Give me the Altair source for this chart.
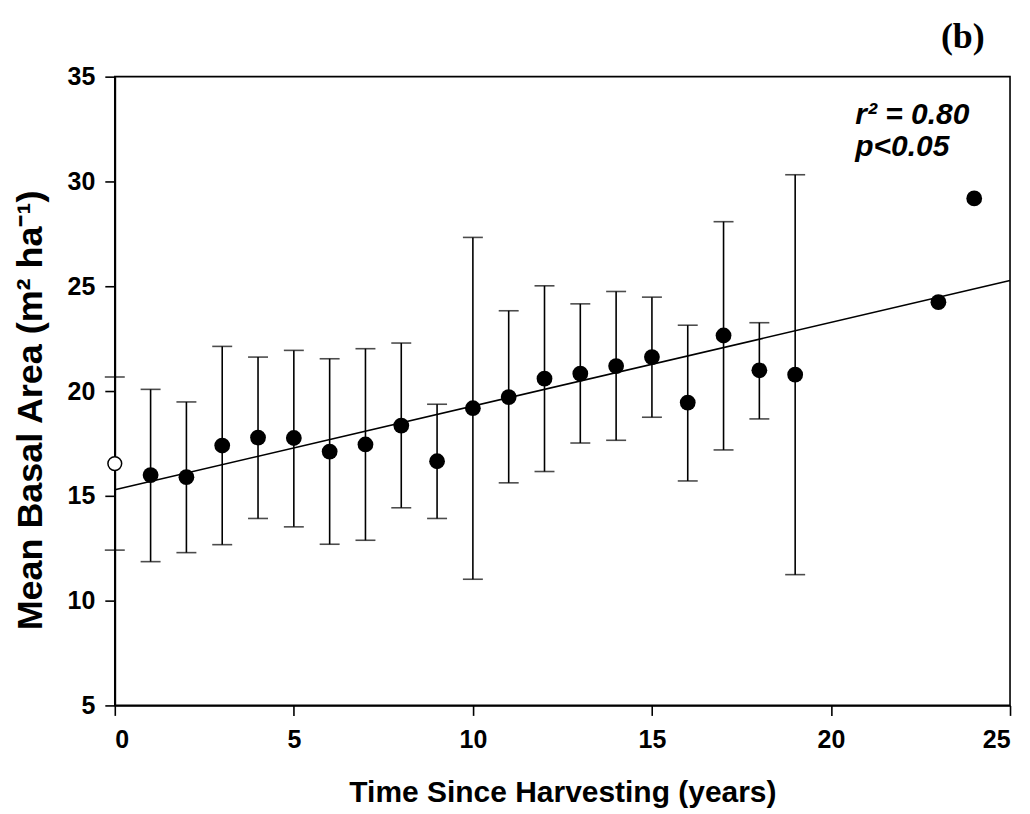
import altair as alt
import pandas as pd

# Data
years = [1, 2, 3, 4, 5, 6, 7, 8, 9, 10, 11, 12, 13, 14, 15, 16, 17, 18, 19, 23, 24]
mean_ba = [15.99, 15.89, 17.40, 17.78, 17.76, 17.11, 17.45, 18.35, 16.65, 19.18,
           19.71, 20.59, 20.83, 21.19, 21.62, 19.45, 22.65, 20.99, 20.78, 24.24, 29.19]
upper = [20.08, 19.48, 22.13, 21.62, 21.94, 21.54, 22.02, 22.29, 19.37, 27.33,
         23.83, 25.02, 24.16, 24.75, 24.48, 23.14, 28.08, 23.26, 30.32, None, None]
lower = [11.86, 12.29, 12.67, 13.92, 13.52, 12.69, 12.88, 14.43, 13.92, 11.02,
         15.62, 16.16, 17.52, 17.65, 18.75, 15.71, 17.19, 18.67, 11.24, None, None]

ref_year = [0]
ref_mean = [16.54]
ref_upper = [20.67]
ref_lower = [12.41]

reg_x = [0, 25]
reg_y = [15.29, 25.27]

ann_x = [20.68, 20.68]
ann_y = [32.75, 31.22]
ann_text = ["r\u00b2 = 0.80", "p<0.05"]

panel_x = [23.07]
panel_y = [36.37]
panel_text = ["(b)"]

df = pd.DataFrame({"year": years, "mean": mean_ba, "hi": upper, "lo": lower})
df_err = df.dropna()
df_ref = pd.DataFrame({"year": ref_year, "mean": ref_mean, "hi": ref_upper, "lo": ref_lower})
df_err_all = pd.concat([df_ref, df_err], ignore_index=True)
df_reg = pd.DataFrame({"year": reg_x, "fit": reg_y})
df_ann = pd.DataFrame({"x": ann_x, "y": ann_y, "t": ann_text})
df_panel = pd.DataFrame({"x": panel_x, "y": panel_y, "t": panel_text})

FONT = "Liberation Sans"

xscale = alt.Scale(domain=[0, 25], nice=False, zero=False)
yscale = alt.Scale(domain=[5, 35], nice=False, zero=False)

xaxis = alt.Axis(values=[0, 5, 10, 15, 20, 25], title="Time Since Harvesting (years)",
                 grid=False, tickSize=10, labelPadding=12, titleFontSize=30,
                 titleBaseline="alphabetic", titleY=96)
yaxis = alt.Axis(values=[5, 10, 15, 20, 25, 30, 35], title="Mean Basal Area (m\u00b2 ha\u207b\u00b9)",
                 grid=False, tickSize=10, labelPadding=10, titleFontSize=36,
                 titleBaseline="alphabetic", titleX=-73, titleY=334)

base_x = alt.X("year:Q", scale=xscale, axis=xaxis)

rules = alt.Chart(df_err_all).mark_rule(color="black", strokeWidth=1.6).encode(
    x=base_x,
    y=alt.Y("lo:Q", scale=yscale, axis=yaxis),
    y2="hi:Q",
)
cap_hi = alt.Chart(df_err_all).mark_tick(color="black", size=20, thickness=1.6, orient="horizontal").encode(
    x="year:Q", y="hi:Q"
)
cap_lo = alt.Chart(df_err_all).mark_tick(color="black", size=20, thickness=1.6, orient="horizontal").encode(
    x="year:Q", y="lo:Q"
)
reg = alt.Chart(df_reg).mark_line(color="black", strokeWidth=1.6).encode(
    x="year:Q", y="fit:Q"
)
pts = alt.Chart(df).mark_point(filled=True, color="black", size=250, opacity=1, shape="circle").encode(
    x="year:Q", y="mean:Q"
)
ref_pt = alt.Chart(df_ref).mark_point(filled=False, color="black", size=190, strokeWidth=1.5,
                                      opacity=1, shape="circle", fill="white", fillOpacity=1).encode(
    x="year:Q", y="mean:Q"
)
ann = alt.Chart(df_ann).mark_text(font=FONT, fontSize=30, fontWeight="bold", fontStyle="italic",
                                  align="left", baseline="alphabetic", color="black").encode(
    x="x:Q", y="y:Q", text="t:N"
)
panel = alt.Chart(df_panel).mark_text(font="Liberation Serif", fontSize=36, fontWeight="bold",
                                      align="left", baseline="alphabetic", color="black").encode(
    x="x:Q", y="y:Q", text="t:N"
)

chart = alt.layer(rules, cap_hi, cap_lo, reg, pts, ref_pt, ann, panel).properties(
    width=897, height=630,
    autosize=alt.AutoSizeParams(type="none"),
    padding={"left": 107, "top": 68, "right": 12, "bottom": 106},
).configure_view(
    stroke="black", strokeWidth=1.6
).configure_axis(
    domainColor="black", domainWidth=1.8, tickColor="black", tickWidth=1.6,
    labelFont=FONT, labelFontSize=25, labelFontWeight="bold", labelColor="black",
    titleFont=FONT, titleFontWeight="bold", titleColor="black",
)

chart.save("out.html", embed_options={"renderer": "svg", "actions": False})
